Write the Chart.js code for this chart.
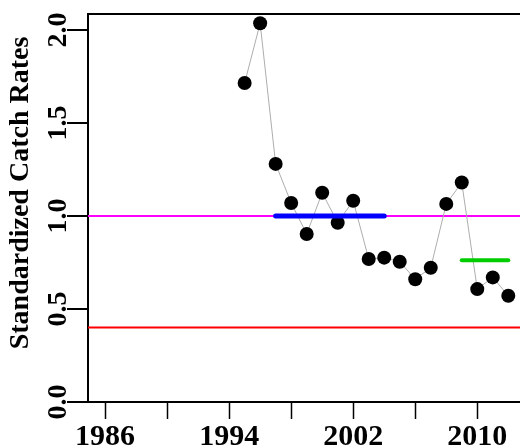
<!DOCTYPE html>
<html>
<head>
<meta charset="utf-8">
<script src="https://cdn.jsdelivr.net/npm/chart.js@4/dist/chart.umd.min.js"></script>
<style>
	html, body { margin: 0; padding: 0; background: #fff; overflow: hidden; }
	#wrap { width: 520px; height: 447px; overflow: hidden; }
</style>
</head>
<body>
<div id="wrap"><canvas id="cpue" width="540" height="447"></canvas></div>
<script>
	// Standardized catch rates by year.
	const years = [1995, 1996, 1997, 1998, 1999, 2000, 2001, 2002, 2003, 2004, 2005, 2006, 2007, 2008, 2009, 2010, 2011, 2012];
	const rates = [1.715, 2.036, 1.28, 1.07, 0.903, 1.125, 0.964, 1.082, 0.769, 0.776, 0.754, 0.66, 0.722, 1.065, 1.18, 0.607, 0.67, 0.571];

	// Reference levels.
	const targetLevel = 1.0;
	const limitLevel = 0.4;
	const baseYears = [1997, 2004];
	const baseLevel = 1.0;
	const recentYears = [2009, 2012];
	const recentLevel = 0.762;

	// Axes.
	const xRange = [1984.9, 2013.4];
	const xTicks = [1986, 1990, 1994, 1998, 2002, 2006, 2010];
	const xLabels = [1986, 1994, 2002, 2010];
	const yRange = [0, 2.086];
	const yTicks = [0, 0.5, 1.0, 1.5, 2.0];
	const yTitle = 'Standardized Catch Rates';

	const serif = "'Liberation Serif', 'Times New Roman', serif";

	function hline(level, from, to, color, width, order) {
		return {
			data: [{ x: from, y: level }, { x: to, y: level }],
			showLine: true,
			borderColor: color,
			borderWidth: width,
			borderCapStyle: 'round',
			pointRadius: 0,
			order: order,
		};
	}

	// Box top line, y ticks with rotated labels, and y title.
	const frame = {
		id: 'frame',
		beforeDatasetsDraw(chart) {
			const a = chart.chartArea;
			const ctx = chart.ctx;
			const y = chart.scales.y;
			ctx.save();
			ctx.strokeStyle = '#000';
			ctx.lineWidth = 2;
			ctx.beginPath();
			ctx.moveTo(a.left, a.top);
			ctx.lineTo(a.right + 20, a.top);
			yTicks.forEach(function(v) {
				const py = Math.round(y.getPixelForValue(v));
				ctx.moveTo(a.left - 21, py);
				ctx.lineTo(a.left, py);
			});
			ctx.stroke();

			ctx.fillStyle = '#000';
			ctx.textAlign = 'center';
			ctx.textBaseline = 'alphabetic';
			ctx.font = 'bold 28px ' + serif;
			yTicks.forEach(function(v) {
				ctx.save();
				ctx.translate(a.left - 22, y.getPixelForValue(v));
				ctx.rotate(-Math.PI / 2);
				ctx.fillText(v.toFixed(1), 0, 0);
				ctx.restore();
			});
			ctx.translate(28, 193);
			ctx.rotate(-Math.PI / 2);
			ctx.fillText(yTitle, 0, 0);
			ctx.restore();
		}
	};

	new Chart(document.getElementById('cpue'), {
		type: 'scatter',
		data: {
			datasets: [
				hline(targetLevel, xRange[0], xRange[1], '#ff00ff', 2, 3),
				hline(limitLevel, xRange[0], xRange[1], '#ff0000', 2, 3),
				{
					data: years.map(function(yr, i) { return { x: yr, y: rates[i] }; }),
					showLine: true,
					borderColor: '#adadad',
					borderWidth: 1,
					pointRadius: 7,
					pointBackgroundColor: '#000',
					pointBorderColor: '#000',
					pointBorderWidth: 0,
					order: 2,
				},
				hline(baseLevel, baseYears[0], baseYears[1], '#0000ff', 5, 1),
				hline(recentLevel, recentYears[0], recentYears[1], '#00cc00', 4, 1),
			]
		},
		options: {
			responsive: false,
			animation: false,
			devicePixelRatio: 1,
			layout: { padding: { top: 14, right: 10, left: 0, bottom: 0 } },
			plugins: {
				legend: { display: false },
				tooltip: { enabled: false },
			},
			scales: {
				x: {
					type: 'linear',
					min: xRange[0],
					max: xRange[1],
					afterBuildTicks: function(scale) {
						scale.ticks = xTicks.map(function(v) { return { value: v }; });
					},
					afterFit: function(scale) { scale.height = 45; },
					grid: {
						drawOnChartArea: false,
						drawTicks: true,
						tickLength: 17,
						tickColor: '#000',
						tickWidth: 1.5,
					},
					border: { display: true, color: '#000', width: 2 },
					ticks: {
						autoSkip: false,
						maxRotation: 0,
						padding: 0,
						color: '#000',
						font: { family: serif, size: 30, weight: 'bold' },
						callback: function(v) { return xLabels.indexOf(v) >= 0 ? String(v) : ''; }
					}
				},
				y: {
					type: 'linear',
					min: yRange[0],
					max: yRange[1],
					afterBuildTicks: function(scale) {
						scale.ticks = yTicks.map(function(v) { return { value: v }; });
					},
					afterFit: function(scale) { scale.width = 88; },
					grid: { display: false },
					border: { display: true, color: '#000', width: 2 },
					// Ticks and labels are drawn by the frame plugin.
					ticks: { display: false }
				}
			}
		},
		plugins: [frame]
	});
</script>
</body>
</html>
